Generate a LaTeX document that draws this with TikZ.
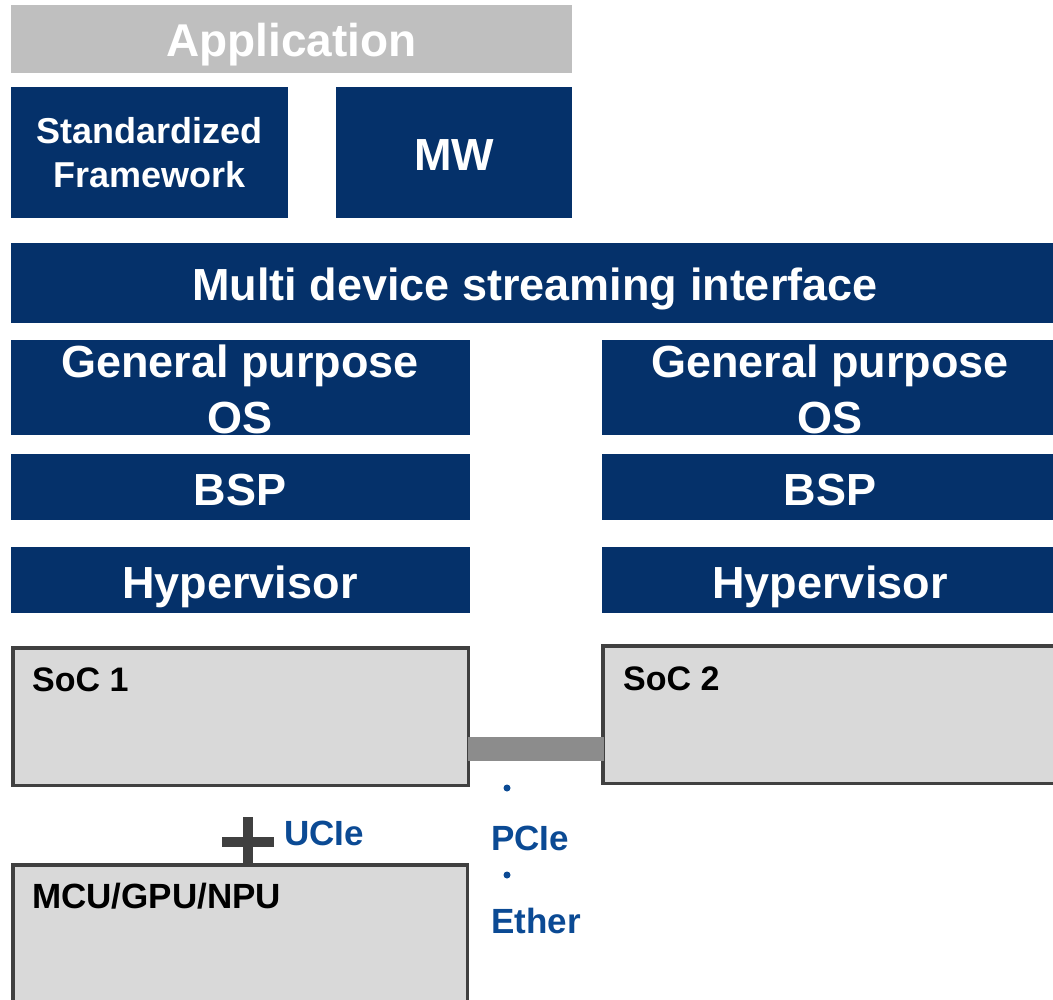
\documentclass[tikz,border=0pt]{standalone}
\usepackage{fontspec}
\setmainfont{Liberation Sans}
\definecolor{navy}{HTML}{05316A}
\definecolor{appgray}{HTML}{BFBFBF}
\definecolor{socfill}{HTML}{D9D9D9}
\definecolor{socline}{HTML}{404040}
\definecolor{bargray}{HTML}{8C8C8C}
\definecolor{linkblue}{HTML}{0B4A94}
\begin{document}
\begin{tikzpicture}[x=1pt,y=-1pt,
  box/.style={rectangle, inner sep=0pt, outer sep=0pt, anchor=north west},
  bluebox/.style={box, fill=navy},
  socbox/.style={box, fill=socfill, draw=socline, line width=3.5pt},
  lbl/.style={inner sep=0pt, anchor=base, text=white, font=\bfseries\fontsize{#1}{#1}\selectfont},
  lbl/.default=45,
  soclbl/.style={inner sep=0pt, anchor=base west, text=black, font=\bfseries\fontsize{#1}{#1}\selectfont},
  linklbl/.style={inner sep=0pt, anchor=base west, text=linkblue, font=\bfseries\fontsize{35}{35}\selectfont},
  barline/.style={draw=bargray, line width=24pt},
  plusline/.style={draw=socline, line width=10pt},
  dotmark/.style={circle, fill=linkblue, inner sep=0pt, minimum size=7pt}
]
\clip (0,0) rectangle (1053,1000);
\fill[white] (0,0) rectangle (1053,1000);

% upper boxes
\node[box, fill=appgray, minimum width=561pt, minimum height=68pt] (app) at (11,5) {};
\node[bluebox, minimum width=277pt, minimum height=131pt] (sf) at (11,87) {};
\node[bluebox, minimum width=236pt, minimum height=131pt] (mw) at (336,87) {};
\node[bluebox, minimum width=1050pt, minimum height=80pt] (mdsi) at (11,243) {};

\node[bluebox, minimum width=459pt, minimum height=95pt] (gp1) at (11,340) {};
\node[bluebox, minimum width=460pt, minimum height=95pt] (gp2) at (602,340) {};
\node[bluebox, minimum width=459pt, minimum height=66pt] (bsp1) at (11,454) {};
\node[bluebox, minimum width=460pt, minimum height=66pt] (bsp2) at (602,454) {};
\node[bluebox, minimum width=459pt, minimum height=66pt] (hyp1) at (11,547) {};
\node[bluebox, minimum width=460pt, minimum height=66pt] (hyp2) at (602,547) {};

% SoC boxes
\node[socbox, minimum width=455.5pt, minimum height=137.5pt] (soc1) at (12.75,647.75) {};
\node[socbox, minimum width=460pt, minimum height=137.5pt] (soc2) at (602.75,645.75) {};
\node[socbox, minimum width=454.5pt, minimum height=160pt] (mcu) at (12.75,864.75) {};

% link bar between SoCs
\coordinate (barL) at (468,749);
\coordinate (barR) at (604,749);
\draw[barline] (barL) -- (barR);

% UCIe plus
\coordinate (pt) at (248,817);
\coordinate (pb) at (248,867);
\coordinate (pl) at (222,842);
\coordinate (pr) at (274,842);
\draw[plusline] (pt) -- (pb);
\draw[plusline] (pl) -- (pr);

% labels
\node[lbl=46] (tapp) at (291.5,57) {Application};
\node[lbl=36] (tsf1) at (149.5,144) {Standardized};
\node[lbl=36] (tsf2) at (149.5,188) {Framework};
\node[lbl=45] (tmw) at (454,171) {MW};
\node[lbl=45] (tmdsi) at (535,301) {Multi device streaming interface};
\node[lbl=45] (tgp1a) at (240,378) {General purpose};
\node[lbl=45] (tgp1b) at (240,433) {OS};
\node[lbl=45] (tgp2a) at (830,378) {General purpose};
\node[lbl=45] (tgp2b) at (830,433) {OS};
\node[lbl=45] (tbsp1) at (240,505) {BSP};
\node[lbl=45] (tbsp2) at (830,505) {BSP};
\node[lbl=45] (thyp1) at (240,598) {Hypervisor};
\node[lbl=45] (thyp2) at (830,598) {Hypervisor};

\node[soclbl=34] (tsoc1) at (32,691) {SoC 1};
\node[soclbl=34] (tsoc2) at (623,690) {SoC 2};
\node[soclbl=35] (tmcu) at (32,908) {MCU/GPU/NPU};

\node[linklbl] (tucie) at (284,845) {UCIe};
\node[dotmark] (d1) at (507,788) {};
\node[linklbl] (tpcie) at (491,850) {PCIe};
\node[dotmark] (d2) at (507,875) {};
\node[linklbl] (tether) at (491,933) {Ether};
\end{tikzpicture}
\end{document}
